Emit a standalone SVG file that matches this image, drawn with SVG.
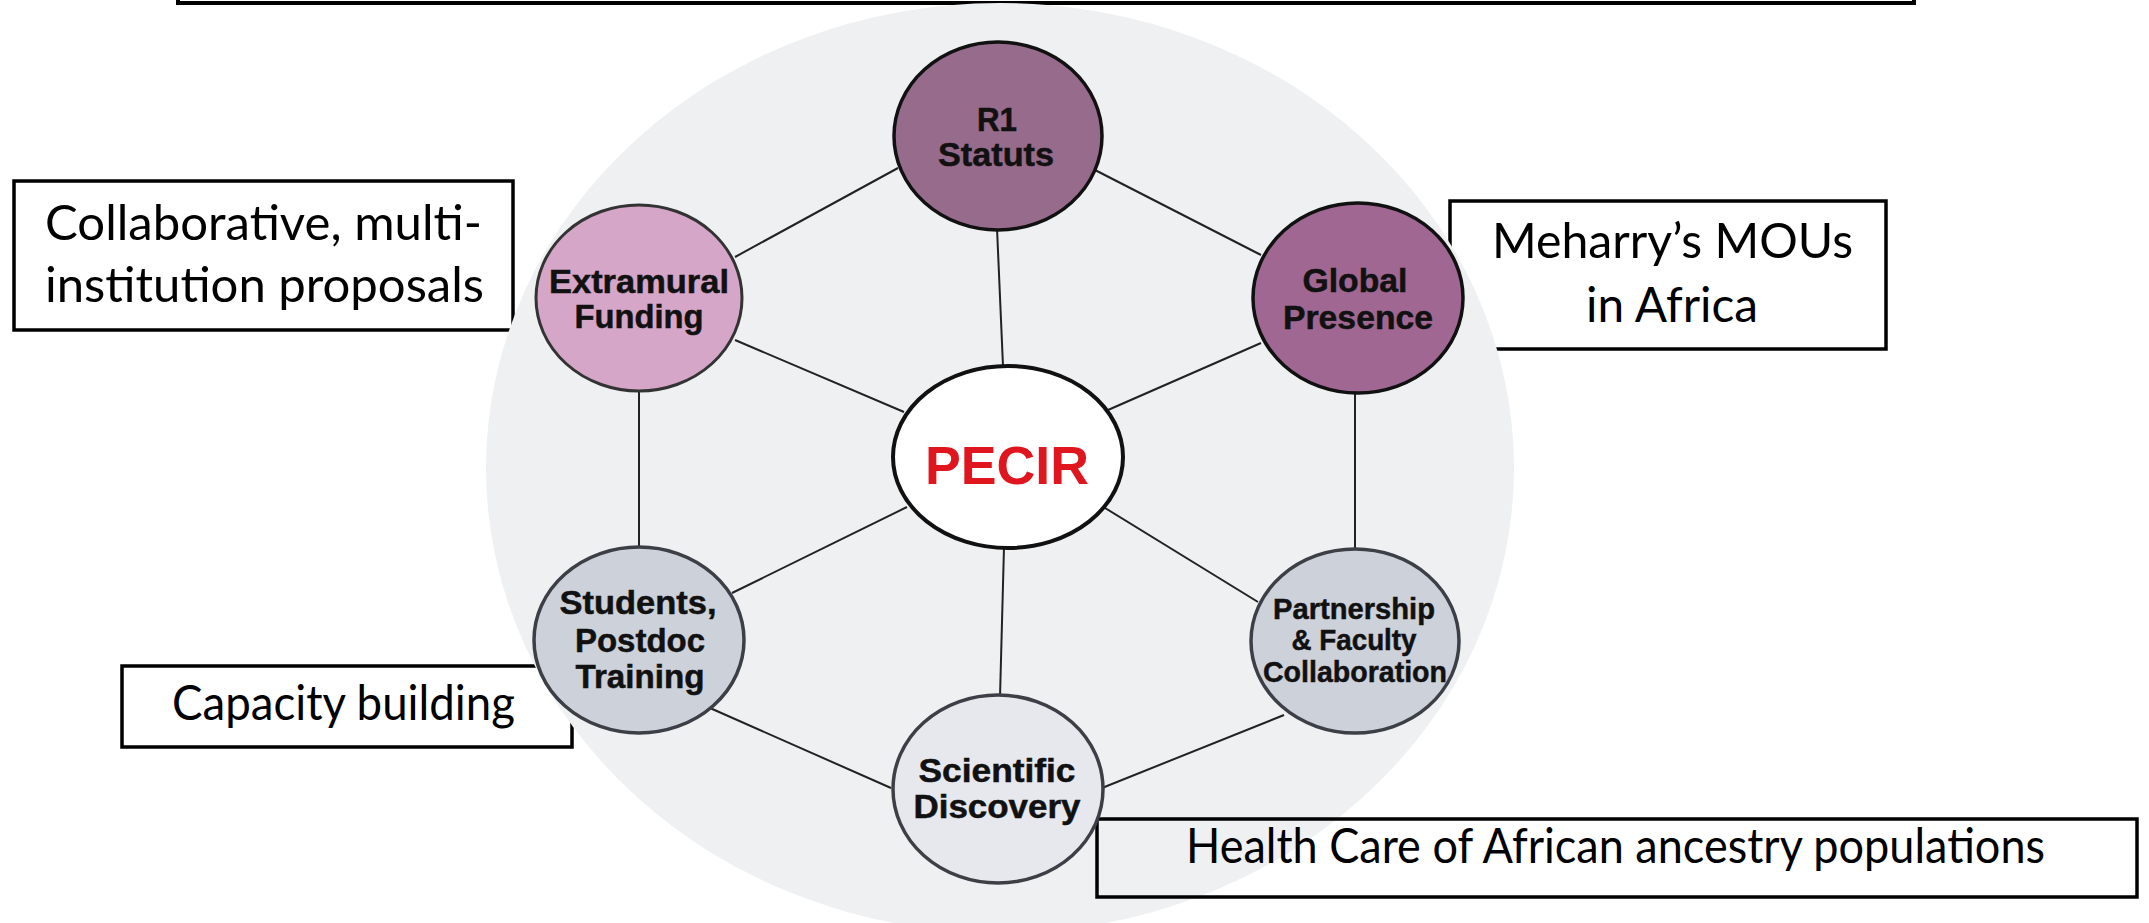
<svg xmlns="http://www.w3.org/2000/svg" width="2149" height="923" viewBox="0 0 2149 923">
<style>
.box{fill:#fff;stroke:#000;stroke-width:3.5}
.note{font-family:Lato,"Liberation Sans",sans-serif;font-size:48px;fill:#000}
.lbl{font-family:"Liberation Sans",Arial,sans-serif;font-weight:bold;font-size:33px;fill:#111;stroke:#111;stroke-width:0.5;text-anchor:middle}
.sm{font-size:30px}
.edge{stroke:#222;stroke-width:2;fill:none}
</style>
<rect width="2149" height="923" fill="#fff"/>
<rect id="top-box" x="178" y="-20" width="1736" height="23" fill="none" stroke="#000" stroke-width="4"/>
<g id="note-collab">
<rect class="box" x="14" y="181" width="499" height="149"/>
<text class="note" x="45" y="240" textLength="437" lengthAdjust="spacingAndGlyphs">Collaborative, multi-</text>
<text class="note" x="45" y="302" textLength="439" lengthAdjust="spacingAndGlyphs">institution proposals</text>
</g>
<g id="note-mou">
<rect class="box" x="1450" y="201" width="436" height="148"/>
<text class="note" x="1492" y="258" textLength="361" lengthAdjust="spacingAndGlyphs">Meharry’s MOUs</text>
<text class="note" x="1586" y="322" textLength="172" lengthAdjust="spacingAndGlyphs">in Africa</text>
</g>
<g id="note-capacity">
<rect class="box" x="122" y="666" width="450" height="81"/>
<text class="note" x="172" y="720" textLength="343" lengthAdjust="spacingAndGlyphs">Capacity building</text>
</g>
<ellipse id="background-circle" cx="1000" cy="468" rx="514" ry="465" fill="#eff0f2"/>
<g id="note-health">
<rect x="1097" y="819" width="1040" height="78" fill="none" stroke="#000" stroke-width="3.5"/>
<text class="note" x="1186" y="863" textLength="859" lengthAdjust="spacingAndGlyphs">Health Care of African ancestry populations</text>
</g>
<g id="connectors">
<line class="edge" x1="898" y1="168" x2="735" y2="257"/>
<line class="edge" x1="1095" y1="170" x2="1261" y2="255"/>
<line class="edge" x1="997" y1="228" x2="1003" y2="366"/>
<line class="edge" x1="735" y1="340" x2="904" y2="412"/>
<line class="edge" x1="1261" y1="343" x2="1108" y2="410"/>
<line class="edge" x1="639" y1="390" x2="639" y2="548"/>
<line class="edge" x1="1355" y1="392" x2="1355" y2="551"/>
<line class="edge" x1="907" y1="507" x2="732" y2="593"/>
<line class="edge" x1="1105" y1="508" x2="1258" y2="602"/>
<line class="edge" x1="1004" y1="547" x2="1000" y2="697"/>
<line class="edge" x1="710" y1="708" x2="891" y2="788"/>
<line class="edge" x1="1284" y1="715" x2="1102" y2="788"/>
</g>
<g id="node-r1">
<ellipse cx="998" cy="136" rx="104" ry="94" fill="#976b8b" stroke="#111" stroke-width="3.5"/>
<text class="lbl" x="997" y="131" textLength="40" lengthAdjust="spacingAndGlyphs">R1</text>
<text class="lbl" x="996" y="166" textLength="116" lengthAdjust="spacingAndGlyphs">Statuts</text>
</g>
<g id="node-extramural">
<ellipse cx="639" cy="298" rx="103" ry="93" fill="#d5a6c8" stroke="#333" stroke-width="3"/>
<text class="lbl" x="639" y="293" textLength="180" lengthAdjust="spacingAndGlyphs">Extramural</text>
<text class="lbl" x="639" y="328" textLength="129" lengthAdjust="spacingAndGlyphs">Funding</text>
</g>
<g id="node-global">
<ellipse cx="1358" cy="298" rx="105" ry="95" fill="#9f6791" stroke="#111" stroke-width="3.5"/>
<text class="lbl" x="1355" y="292" textLength="105" lengthAdjust="spacingAndGlyphs">Global</text>
<text class="lbl" x="1358" y="329" textLength="150" lengthAdjust="spacingAndGlyphs">Presence</text>
</g>
<g id="node-pecir">
<ellipse cx="1008" cy="457" rx="115" ry="91" fill="#fff" stroke="#111" stroke-width="4"/>
<text x="1007" y="484" text-anchor="middle" font-family="'Liberation Sans',Arial,sans-serif" font-weight="bold" font-size="54" fill="#e0161e" textLength="164" lengthAdjust="spacingAndGlyphs">PECIR</text>
</g>
<g id="node-students">
<ellipse cx="639" cy="640" rx="105" ry="93" fill="#cdd1da" stroke="#3c3f46" stroke-width="3.5"/>
<text class="lbl" x="638" y="614" textLength="157" lengthAdjust="spacingAndGlyphs">Students,</text>
<text class="lbl" x="640" y="652" textLength="130" lengthAdjust="spacingAndGlyphs">Postdoc</text>
<text class="lbl" x="640" y="688" textLength="129" lengthAdjust="spacingAndGlyphs">Training</text>
</g>
<g id="node-partnership">
<ellipse cx="1355" cy="641" rx="104" ry="92" fill="#cdd1da" stroke="#3c3f46" stroke-width="3.5"/>
<text class="lbl sm" x="1354" y="619" textLength="162" lengthAdjust="spacingAndGlyphs">Partnership</text>
<text class="lbl sm" x="1354" y="650" textLength="125" lengthAdjust="spacingAndGlyphs">&amp; Faculty</text>
<text class="lbl sm" x="1355" y="682" textLength="184" lengthAdjust="spacingAndGlyphs">Collaboration</text>
</g>
<g id="node-discovery">
<ellipse cx="998" cy="789" rx="105" ry="94" fill="#e6e8ee" stroke="#3c3f46" stroke-width="3.5"/>
<text class="lbl" x="997" y="782" textLength="157" lengthAdjust="spacingAndGlyphs">Scientific</text>
<text class="lbl" x="997" y="818" textLength="167" lengthAdjust="spacingAndGlyphs">Discovery</text>
</g>
</svg>
